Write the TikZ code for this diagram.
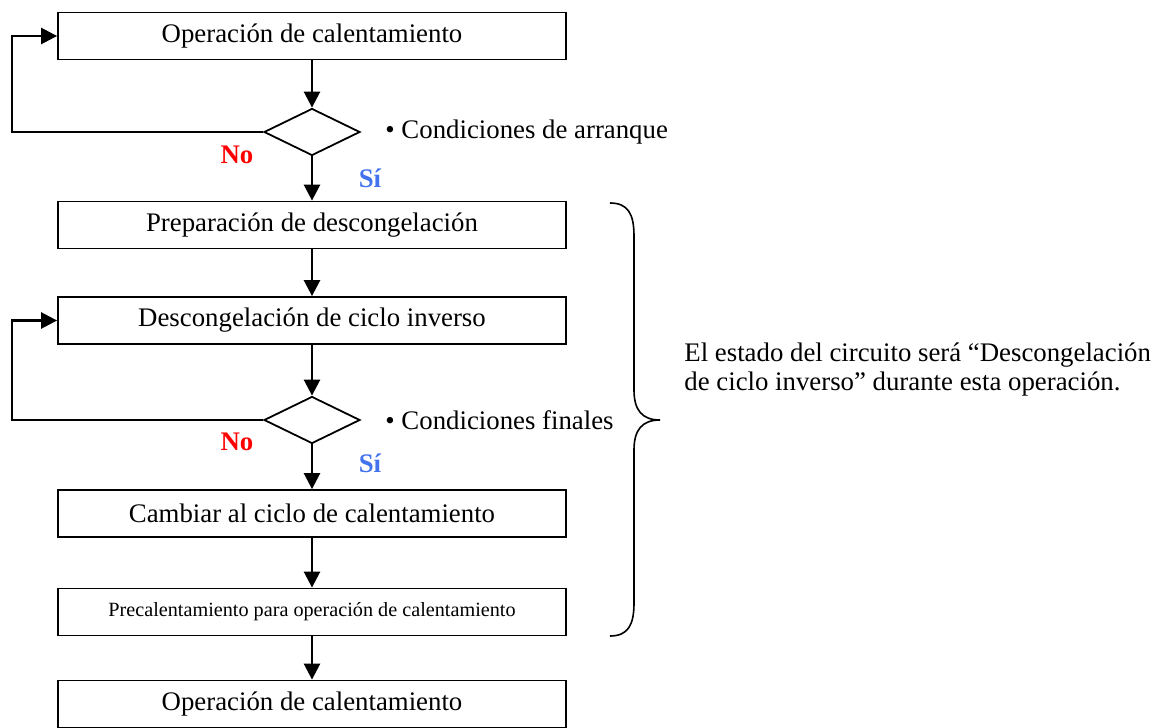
\documentclass[tikz,border=0pt]{standalone}
\usepackage{fontspec}
\setmainfont{Liberation Serif}
\usetikzlibrary{arrows.meta,shapes.geometric}
\definecolor{nored}{RGB}{255,0,0}
\definecolor{siblue}{RGB}{66,114,238}
\tikzset{
    stepbox/.style={draw,line width=0.9pt,minimum width=254pt,minimum height=23.5pt,inner sep=0pt,
        font=\fontsize{13.4}{15}\selectfont},
    test/.style={draw,diamond,line width=0.9pt,minimum width=48pt,minimum height=23.5pt,inner sep=0pt},
    flow/.style={line width=1.3pt,-{Triangle[width=8pt,length=8pt]}},
    txt/.style={font=\fontsize{13.4}{14.5}\selectfont,inner sep=0pt},
    nolabel/.style={txt,font=\fontsize{13.4}{14.5}\selectfont\bfseries,text=nored},
    silabel/.style={txt,font=\fontsize{13.4}{14.5}\selectfont\bfseries,text=siblue}
}
\begin{document}
\begin{tikzpicture}[x=0.5pt,y=-0.5pt]
    \useasboundingbox (0,0) rectangle (1175,728);
    % main column
    \node[stepbox] (op1) at (312,36) {Operación de calentamiento};
    \node[test] (d1) at (312,132) {};
    \node[stepbox] (prep) at (312,225) {Preparación de descongelación};
    \node[stepbox] (desc) at (312,320.5) {Descongelación de ciclo inverso};
    \node[test] (d2) at (312,420) {};
    \node[stepbox] (camb) at (312,513.5) {Cambiar al ciclo de calentamiento};
    \node[stepbox,font=\fontsize{10.1}{12}\selectfont] (prec) at (312,612) {Precalentamiento para operación de calentamiento};
    \node[stepbox] (op2) at (312,704) {Operación de calentamiento};
    % conditions
    \node[txt,anchor=west] (c1) at (385,132) {• Condiciones de arranque};
    \node[txt,anchor=west] (c2) at (385,420) {• Condiciones finales};
    \node[nolabel] (no1) at (237,155) {No};
    \node[silabel] (si1) at (370,178) {Sí};
    \node[nolabel] (no2) at (237,442) {No};
    \node[silabel] (si2) at (370,463) {Sí};
    % arrows
    \draw[flow] (op1) -- (d1);
    \draw[flow] (d1) -- (prep);
    \draw[flow] (prep) -- (desc);
    \draw[flow] (desc) -- (d2);
    \draw[flow] (d2) -- (camb);
    \draw[flow] (camb) -- (prec);
    \draw[flow] (prec) -- (op2);
    % loops back
    \coordinate (l1) at (12,132);
    \coordinate (l2) at (12,420);
    \draw[flow] (d1.west) -- (l1) |- (op1.west);
    \draw[flow] (d2.west) -- (l2) |- (desc.west);
    % brace and note
    \coordinate (bt) at (610,203);
    \coordinate (bb) at (610,636);
    \coordinate (tip) at (660,420);
    \draw[line width=0.8pt] (bt) .. controls (628,203) and (634,214) .. (634,236)
        -- (634,390) .. controls (634,410) and (642,420) .. (tip)
        .. controls (642,420) and (634,430) .. (634,450)
        -- (634,603) .. controls (634,625) and (628,636) .. (bb);
    \node[txt,anchor=west,align=left] (note) at (684,370)
        {El estado del circuito será “Descongelación\\de ciclo inverso” durante esta operación.};
\end{tikzpicture}
\end{document}
